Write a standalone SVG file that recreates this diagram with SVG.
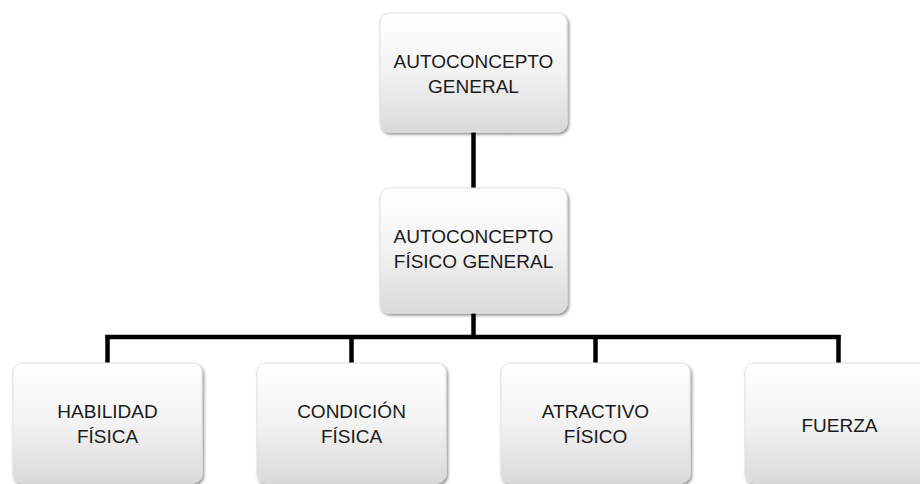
<svg xmlns="http://www.w3.org/2000/svg" width="920" height="484" viewBox="0 0 920 484">
<defs>
<linearGradient id="g" x1="0" y1="0" x2="0" y2="1">
<stop offset="0" stop-color="#ffffff"/>
<stop offset="0.5" stop-color="#f3f3f3"/>
<stop offset="1" stop-color="#d9d9d9"/>
</linearGradient>
<filter id="sh" x="-10%" y="-10%" width="125%" height="125%">
<feDropShadow dx="1.5" dy="2" stdDeviation="1.8" flood-color="#000" flood-opacity="0.45"/>
</filter>
<style>
.box{fill:url(#g);stroke:#e0e0e0;stroke-width:1;filter:url(#sh)}
.t{font-family:"Liberation Sans",Arial,sans-serif;font-size:19px;fill:#1a1a1a;text-anchor:middle}
.c{stroke:#000;stroke-width:4.5;fill:none}
</style>
</defs>
<rect width="920" height="484" fill="#fff"/>
<g id="connectors">
<line class="c" x1="473.5" y1="132" x2="473.5" y2="189"/>
<line class="c" x1="473.5" y1="313" x2="473.5" y2="337"/>
<line class="c" x1="105.5" y1="337" x2="840.5" y2="337"/>
<line class="c" x1="107.5" y1="335" x2="107.5" y2="364"/>
<line class="c" x1="351.5" y1="335" x2="351.5" y2="364"/>
<line class="c" x1="595.5" y1="335" x2="595.5" y2="364"/>
<line class="c" x1="838.5" y1="335" x2="838.5" y2="364"/>
</g>
<g id="n1">
<rect class="box" x="380" y="13" width="187" height="119" rx="9"/>
<text class="t" x="473.5" y="68">AUTOCONCEPTO</text>
<text class="t" x="473.5" y="93">GENERAL</text>
</g>
<g id="n2">
<rect class="box" x="380" y="188" width="187" height="125" rx="9"/>
<text class="t" x="473.5" y="243">AUTOCONCEPTO</text>
<text class="t" x="473.5" y="268">FÍSICO GENERAL</text>
</g>
<g id="n3">
<rect class="box" x="13" y="363" width="189" height="120" rx="9"/>
<text class="t" x="107.5" y="418">HABILIDAD</text>
<text class="t" x="107.5" y="443">FÍSICA</text>
</g>
<g id="n4">
<rect class="box" x="257" y="363" width="189" height="120" rx="9"/>
<text class="t" x="351.5" y="418">CONDICIÓN</text>
<text class="t" x="351.5" y="443">FÍSICA</text>
</g>
<g id="n5">
<rect class="box" x="501" y="363" width="189" height="120" rx="9"/>
<text class="t" x="595.5" y="418">ATRACTIVO</text>
<text class="t" x="595.5" y="443">FÍSICO</text>
</g>
<g id="n6">
<rect class="box" x="745" y="363" width="189" height="120" rx="9"/>
<text class="t" x="839.5" y="432">FUERZA</text>
</g>
</svg>
